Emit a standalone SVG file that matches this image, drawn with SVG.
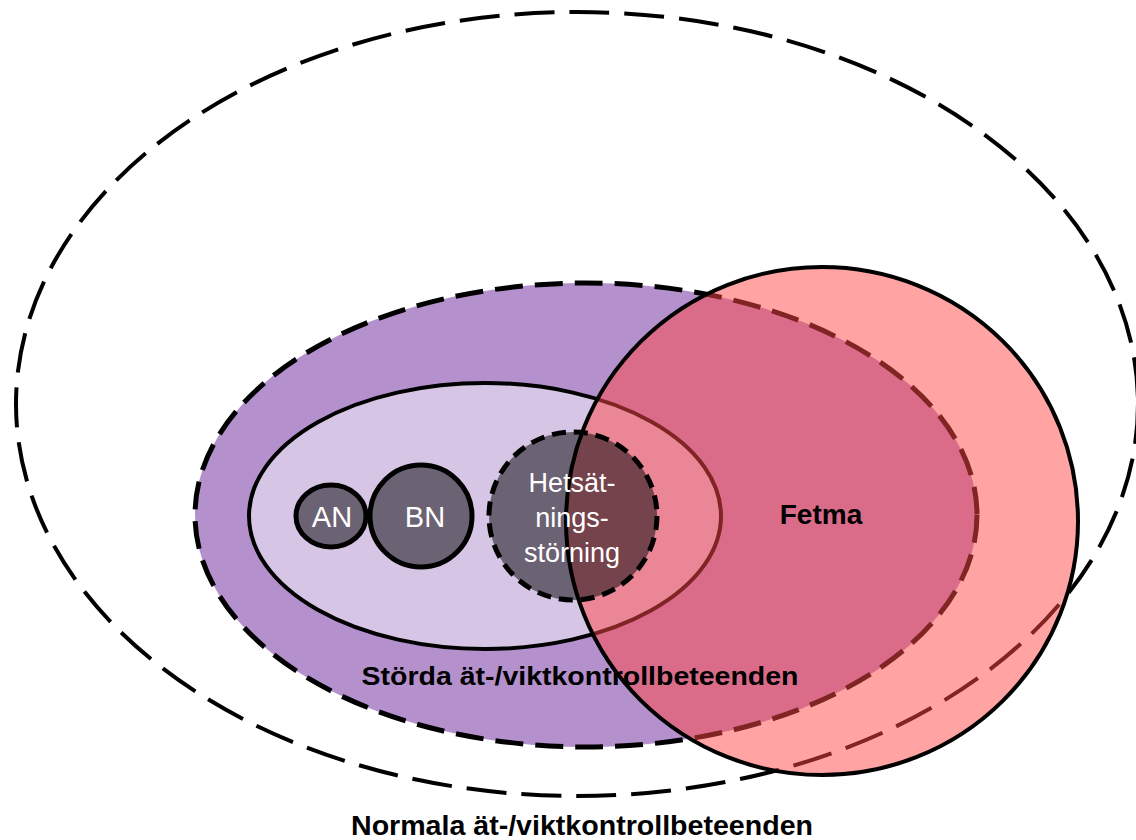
<svg xmlns="http://www.w3.org/2000/svg" width="1136" height="840" viewBox="0 0 1136 840">
<style>
.lbl{font-family:"Liberation Sans",Arial,sans-serif;text-anchor:middle}
.b{font-weight:bold;fill:#000}
.w{fill:#fff}
.dark{fill:#000;fill-opacity:0.5;stroke:#000;stroke-width:5}
</style>
<rect width="1136" height="840" fill="#fff"/>
<g id="normala">
<ellipse cx="577" cy="404" rx="561" ry="392" fill="none" stroke="#000" stroke-width="4" stroke-dasharray="40 15"/>
</g>
<g id="storda">
<ellipse cx="586" cy="515" rx="391" ry="232" fill="#b491cc" stroke="#000" stroke-width="5" stroke-dasharray="28 12"/>
</g>
<g id="atstorningar">
<ellipse cx="485" cy="516" rx="236" ry="133" fill="#d7c5e6" stroke="#000" stroke-width="4"/>
</g>
<g id="fetma">
<ellipse cx="822" cy="521" rx="256" ry="254" fill="#ff4848" fill-opacity="0.5" stroke="#000" stroke-width="4"/>
</g>
<g id="an">
<ellipse class="dark" cx="331" cy="516" rx="35" ry="31"/>
<text class="lbl w" x="332" y="527" font-size="29">AN</text>
</g>
<g id="bn">
<circle class="dark" cx="421" cy="516" r="51"/>
<text class="lbl w" x="425" y="527" font-size="29">BN</text>
</g>
<g id="hetsatning">
<circle class="dark" cx="573" cy="516" r="84" stroke-dasharray="14 8"/>
<text class="lbl w" font-size="27"><tspan x="572" y="492">Hetsät-</tspan><tspan x="572" y="527">nings-</tspan><tspan x="572" y="562">störning</tspan></text>
</g>
<g id="labels">
<text class="lbl b" x="821" y="524" font-size="28">Fetma</text>
<text class="lbl b" x="580" y="685" font-size="26" textLength="437" lengthAdjust="spacingAndGlyphs">Störda ät-/viktkontrollbeteenden</text>
<text class="lbl b" x="582" y="835" font-size="27" textLength="462" lengthAdjust="spacingAndGlyphs">Normala ät-/viktkontrollbeteenden</text>
</g>
<g id="connectors"></g>
</svg>
